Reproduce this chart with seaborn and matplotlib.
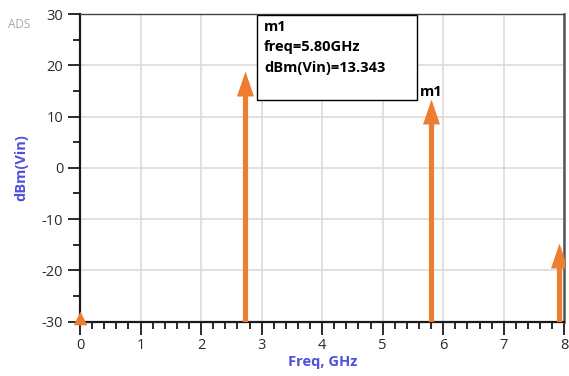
import numpy as np
import pandas as pd
import seaborn as sns
import matplotlib.pyplot as plt
from matplotlib.path import Path
from matplotlib.patches import Rectangle
from matplotlib.ticker import MultipleLocator

# ---- data ----
freq_ghz = [2.72, 5.80, 7.92]
dbm_vin = [18.9, 13.343, -14.7]
dc_freq = [0.0]
dc_level = [-30.0]
x_ticks = [0, 1, 2, 3, 4, 5, 6, 7, 8]
y_ticks = [-30, -20, -10, 0, 10, 20, 30]
marker_name = "m1"
marker_freq = 5.80
marker_val = 13.343

df = pd.DataFrame({"freq": freq_ghz, "dbm": dbm_vin})

sns.set_style("white")
plt.rcParams['font.family'] = ['Open Sans', 'DejaVu Sans']
plt.rcParams['axes.unicode_minus'] = False

W, H = 569, 376
fig = plt.figure(figsize=(W / 100, H / 100), dpi=100)
x0, x1, y0, y1 = 80, 564.3, 14, 321.7
ax = fig.add_axes([x0 / W, 1 - y1 / H, (x1 - x0) / W, (y1 - y0) / H])

orange = "#EE7D31"
blue = "#4F4FDB"

ax.set_xlim(0, 8)
ax.set_ylim(-30, 30)
ax.set_xticks(x_ticks)
ax.set_yticks(y_ticks)
ax.xaxis.set_minor_locator(MultipleLocator(0.2))
ax.yaxis.set_minor_locator(MultipleLocator(5))
ax.grid(True, which="major", color="#d8d8d8", lw=1.1)
ax.set_axisbelow(True)

# arrow shafts
ax.vlines(df["freq"], -30, df["dbm"] - 2.0, color=orange, lw=3.7, zorder=3)
# arrow heads (tip at the value)
head = Path([(0, 0), (-0.34, -1), (0.34, -1), (0, 0)],
            [Path.MOVETO, Path.LINETO, Path.LINETO, Path.CLOSEPOLY])
sns.scatterplot(data=df, x="freq", y="dbm", marker=head, s=36 ** 2,
                color=orange, linewidth=0, ax=ax, zorder=4, legend=False)
# DC component below the display range
ax.scatter(dc_freq, [v + 0.7 for v in dc_level], marker="^", s=95,
           color=orange, linewidth=0, zorder=6, clip_on=False)

# spines
for s in ["left", "bottom"]:
    ax.spines[s].set_color("#1a1a1a")
    ax.spines[s].set_linewidth(1.6)
ax.spines["top"].set_color("#444444")
ax.spines["top"].set_linewidth(1.0)
ax.spines["right"].set_color("#555555")
ax.spines["right"].set_linewidth(1.8)

ax.tick_params(axis="both", which="both", bottom=True, left=True,
               top=False, right=False)
ax.tick_params(axis="both", which="major", direction="out", length=9,
               width=1.3, color="#1a1a1a", labelsize=10.5,
               labelcolor="#2a2a2a", pad=3)
ax.tick_params(axis="both", which="minor", direction="out", length=4.8,
               width=1.3, color="#1a1a1a")

ax.set_xlabel("Freq, GHz", color=blue, fontweight="bold", fontsize=10.5,
              labelpad=1)
ax.set_ylabel("dBm(Vin)", color=blue, fontweight="bold", fontsize=10.5,
              labelpad=10)

# marker readout box
fig.patches.append(Rectangle((257 / W, 1 - 100 / H), 160 / W, 85 / H,
                             transform=fig.transFigure, fill=True,
                             facecolor="white", edgecolor="black", lw=1.0,
                             zorder=5))
box_lines = [marker_name, f"freq={marker_freq:.2f}GHz",
             f"dBm(Vin)={marker_val:.3f}"]
for i, t in enumerate(box_lines):
    fig.text(264 / W, 1 - (27 + 20.5 * i) / H, t, fontsize=10.5,
             fontweight="bold", color="black", va="center", ha="left",
             zorder=6)
ax.annotate(marker_name, xy=(marker_freq, marker_val), xytext=(-8, 5),
            textcoords="offset points", fontsize=10.5, fontweight="bold",
            color="black", ha="left", va="center")

fig.text(8 / W, 1 - 24 / H, "ADS", fontsize=8.5, color="#a8a8a8",
         va="center", ha="left")

fig.savefig("out.png", dpi=100)
